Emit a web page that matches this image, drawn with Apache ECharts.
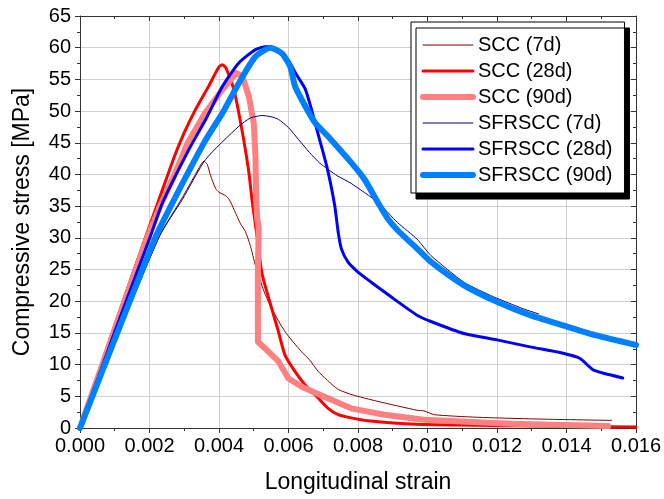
<!DOCTYPE html>
<html>
<head>
<meta charset="utf-8">
<script src="https://cdn.jsdelivr.net/npm/echarts@6/dist/echarts.min.js"></script>
<style>
  html, body { margin: 0; padding: 0; background: #fff; }
  #chart { width: 664px; height: 499px; }
</style>
</head>
<body>
<div id="chart"></div>
<script>
// strain ticks, stress ticks
const xTicks = [0, 0.002, 0.004, 0.006, 0.008, 0.010, 0.012, 0.014, 0.016]
const yTicks = [0, 5, 10, 15, 20, 25, 30, 35, 40, 45, 50, 55, 60, 65]

// [strain, stress MPa]
const scc7 = [
  [0, 0], [0.001, 13.4], [0.00229, 30.3], [0.00295, 36.4], [0.0033, 39.8], [0.00357, 42.1],
  [0.00366, 41.6], [0.00376, 39.8], [0.0039, 37.8], [0.004, 37.2], [0.0042, 36.6],
  [0.0043, 36], [0.00443, 34.5], [0.00462, 32.2], [0.00476, 31], [0.0049, 28.8],
  [0.00505, 25.6], [0.0053, 21.5], [0.00552, 18.8], [0.0059, 15.2], [0.00638, 12],
  [0.0066, 10.8], [0.00686, 8.9], [0.0074, 6.2], [0.0078, 5.3], [0.00857, 4.2],
  [0.0097, 2.8], [0.0099, 2.7], [0.0102, 2.1], [0.0114, 1.7], [0.0133, 1.4], [0.0153, 1.2]
]
const scc28 = [
  [0, 0], [0.001, 16.2], [0.0019, 30.3], [0.0027, 42.6], [0.003, 46.6], [0.0033, 50],
  [0.0037, 53.9], [0.004, 57], [0.0041, 57.3], [0.0042, 56.8],
  [0.00443, 53.4], [0.00457, 49.7], [0.00471, 45.5], [0.00486, 40.3], [0.00495, 36],
  [0.0051, 30], [0.00524, 24.3], [0.00552, 18.8], [0.00571, 15.2], [0.0059, 11.5],
  [0.00619, 8.9], [0.00648, 6.8], [0.00686, 4.7], [0.00714, 3.1], [0.00743, 2.1],
  [0.0078, 1.6], [0.00829, 1.15], [0.0097, 0.6], [0.0114, 0.45], [0.013, 0.3], [0.016, 0.15]
]
const scc90 = [
  [0, 0], [0.001, 15.6], [0.0019, 29.5], [0.0023, 35], [0.0027, 39.7], [0.0031, 45],
  [0.0036, 49.7], [0.0041, 53.4], [0.0045, 56], [0.00467, 55.5], [0.00486, 52.3],
  [0.005, 48.1], [0.00505, 42.9], [0.00507, 36], [0.0051, 33], [0.00514, 31.6],
  [0.00512, 24.6], [0.00512, 13.6], [0.00543, 12], [0.00571, 10.5], [0.006, 7.8],
  [0.00638, 6.5], [0.00667, 5.8], [0.0078, 3.1], [0.00876, 2.1], [0.0099, 1.3],
  [0.0124, 0.68], [0.0152, 0.3]
]
const sfr7 = [
  [0, 0], [0.001, 13.4], [0.00229, 30.3], [0.00295, 36.1], [0.00362, 42.4], [0.00457, 47.6],
  [0.0049, 48.9], [0.00524, 49.3], [0.0055, 49.1], [0.00571, 48.7], [0.006, 47.4],
  [0.00629, 45.5], [0.0066, 43.5], [0.0069, 41.8], [0.0074, 39.8], [0.0078, 38.6],
  [0.00857, 35.6], [0.00914, 32.4], [0.0097, 29.8], [0.0101, 27.2], [0.01105, 23],
  [0.0119, 20.7], [0.01276, 18.8], [0.0132, 18]
]
const sfr28 = [
  [0, 0], [0.001, 15.2], [0.00203, 30.3], [0.00238, 35.6], [0.00314, 44], [0.00362, 48.7],
  [0.0041, 53.9], [0.00457, 57.6], [0.00505, 59.7], [0.0054, 60.2], [0.0057, 59.6],
  [0.006, 58], [0.0062, 56], [0.00648, 53.5], [0.00665, 50.5], [0.00676, 48.2],
  [0.0071, 41.3], [0.00733, 35.1], [0.00743, 30.9], [0.00752, 28.3], [0.00771, 26.2],
  [0.008, 24.6], [0.00838, 23], [0.00895, 20.7], [0.0097, 17.8], [0.0101, 16.8],
  [0.01105, 14.9], [0.012, 13.9], [0.01295, 12.8], [0.0139, 11.8], [0.01438, 11],
  [0.01476, 9.2], [0.0151, 8.6], [0.01562, 7.9]
]
const sfr90 = [
  [0, 0], [0.001, 14], [0.00219, 30.3], [0.00276, 36.6], [0.00362, 45.5], [0.0041, 49.7],
  [0.00457, 54.4], [0.00505, 58.6], [0.00548, 60], [0.00581, 59.1], [0.00605, 57],
  [0.00619, 53.9], [0.00648, 50.8], [0.00676, 48.2], [0.00714, 46], [0.0078, 41.9],
  [0.00819, 39.2], [0.00857, 35.6], [0.00886, 33], [0.00914, 31.2], [0.0097, 28.3],
  [0.0101, 26.2], [0.01105, 22.5], [0.012, 19.9], [0.01295, 17.8], [0.0139, 16.2],
  [0.01486, 14.6], [0.016, 13.1]
]

const names = ['SCC (7d)', 'SCC (28d)', 'SCC (90d)', 'SFRSCC (7d)', 'SFRSCC (28d)', 'SFRSCC (90d)']
const colors = ['#800000', '#ff0000', '#ff8080', '#000080', '#0000ff', '#0080ff']
const widths = [1, 3, 6, 1, 3, 6]

const font = 'Liberation Sans, Arial, sans-serif'

function line (i, data, smooth) {
  return {
    name: names[i],
    type: 'line',
    data: data,
    symbol: 'none',
    smooth: smooth,
    lineStyle: { color: colors[i], width: widths[i], cap: 'round', join: 'round' },
    itemStyle: { color: colors[i] }
  }
}

const chart = echarts.init(document.getElementById('chart'))

const tickStyle = { color: '#333', width: 1 }

chart.setOption({
  animation: false,
  grid: { left: 80, right: 24, top: 16, bottom: 69 },
  legend: {
    orient: 'vertical',
    left: 411,
    top: 22,
    width: 200,
    padding: [13, 12, 8, 9],
    itemWidth: 50,
    itemHeight: 20,
    itemGap: 6,
    itemStyle: { opacity: 0 },
    data: names.map((n, i) => ({
      name: n,
      lineStyle: { color: colors[i], width: widths[i], cap: 'round' }
    })),
    backgroundColor: '#fff',
    borderColor: '#000',
    borderWidth: 1,
    shadowColor: '#000',
    shadowBlur: 0,
    shadowOffsetX: 5,
    shadowOffsetY: 6,
    textStyle: { fontFamily: font, fontSize: 20, color: '#000' }
  },
  xAxis: [
    {
      type: 'value',
      min: xTicks[0],
      max: xTicks[xTicks.length - 1],
      interval: 0.002,
      name: 'Longitudinal strain',
      nameLocation: 'middle',
      nameGap: 43,
      nameTextStyle: { fontFamily: font, fontSize: 23, color: '#000' },
      axisLine: { lineStyle: { color: '#333' } },
      axisTick: { show: true, inside: false, length: 5, lineStyle: tickStyle },
      minorTick: { show: true, splitNumber: 2, length: 3, lineStyle: tickStyle },
      axisLabel: {
        fontFamily: font, fontSize: 20, color: '#000', margin: 8,
        formatter: v => v.toFixed(3)
      },
      splitLine: { show: true, lineStyle: { color: '#d0d0d0', width: 1 } }
    },
    {
      type: 'value',
      position: 'top',
      min: xTicks[0],
      max: xTicks[xTicks.length - 1],
      interval: 0.002,
      axisLine: { show: true, onZero: false, lineStyle: { color: '#333' } },
      axisTick: { show: true, inside: true, length: 5, lineStyle: tickStyle },
      minorTick: { show: true, splitNumber: 2, length: 3, lineStyle: tickStyle },
      axisLabel: { show: false },
      splitLine: { show: false }
    }
  ],
  yAxis: [
    {
      type: 'value',
      min: yTicks[0],
      max: yTicks[yTicks.length - 1],
      interval: 5,
      name: 'Compressive stress [MPa]',
      nameLocation: 'middle',
      nameGap: 46,
      nameTextStyle: { fontFamily: font, fontSize: 23, color: '#000' },
      axisLine: { show: true, lineStyle: { color: '#333' } },
      axisTick: { show: true, inside: false, length: 5, lineStyle: tickStyle },
      minorTick: { show: true, splitNumber: 2, length: 3, lineStyle: tickStyle },
      axisLabel: { fontFamily: font, fontSize: 20, color: '#000', margin: 9 },
      splitLine: { show: true, lineStyle: { color: '#d0d0d0', width: 1 } }
    },
    {
      type: 'value',
      position: 'right',
      min: yTicks[0],
      max: yTicks[yTicks.length - 1],
      interval: 5,
      axisLine: { show: true, onZero: false, lineStyle: { color: '#333' } },
      axisTick: { show: true, inside: true, length: 5, lineStyle: tickStyle },
      minorTick: { show: true, splitNumber: 2, length: 3, lineStyle: tickStyle },
      axisLabel: { show: false },
      splitLine: { show: false }
    }
  ],
  series: [
    line(0, scc7, 0.2),
    line(1, scc28, 0.2),
    line(2, scc90, false),
    line(3, sfr7, 0.2),
    line(4, sfr28, 0.2),
    line(5, sfr90, 0.2)
  ]
})
</script>
</body>
</html>
